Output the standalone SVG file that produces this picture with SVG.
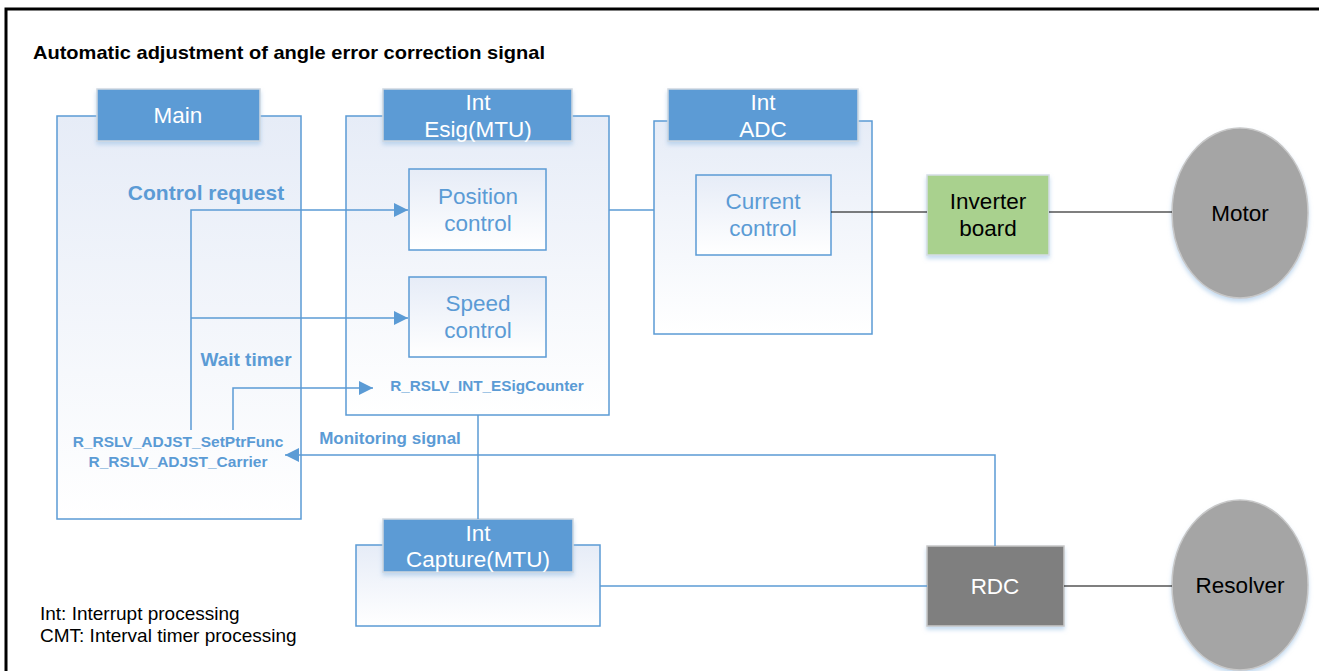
<svg xmlns="http://www.w3.org/2000/svg" width="1319" height="671" viewBox="0 0 1319 671">
<defs>
<linearGradient id="cg" x1="0" y1="0" x2="0" y2="1">
<stop offset="0" stop-color="#e6ecf7"/>
<stop offset="1" stop-color="#ffffff"/>
</linearGradient>
<filter id="sh" x="-20%" y="-20%" width="140%" height="140%">
<feDropShadow dx="0" dy="3" stdDeviation="2" flood-color="#9dc3e6" flood-opacity="0.6"/>
</filter>
<marker id="ar" viewBox="0 0 10 10" refX="10" refY="5" markerWidth="18" markerHeight="14" markerUnits="userSpaceOnUse" orient="auto">
<path d="M0,0 L10,5 L0,10 z" fill="#5b9bd5"/>
</marker>
</defs>
<style>
.cont{fill:url(#cg);stroke:#5b9bd5;stroke-width:1.5}
.hdr{fill:#5b9bd5;stroke:#d0d8e0;stroke-width:1.5;filter:url(#sh)}
.inner{fill:url(#cg);stroke:#5b9bd5;stroke-width:1.5}
.ht{font-family:"Liberation Sans",Arial,sans-serif;font-size:22.5px;fill:#ffffff;text-anchor:middle}
.it{font-family:"Liberation Sans",Arial,sans-serif;font-size:22.5px;fill:#5b9bd5;text-anchor:middle}
.bt{font-family:"Liberation Sans",Arial,sans-serif;font-size:22.5px;fill:#000000;text-anchor:middle}
.lb{font-family:"Liberation Sans",Arial,sans-serif;font-weight:bold;fill:#5b9bd5}
.bl{stroke:#5b9bd5;stroke-width:1.5;fill:none}
.bk{stroke:#000000;stroke-width:1.2;fill:none}
.leg{font-family:"Liberation Sans",Arial,sans-serif;font-size:19px;fill:#000000}
</style>
<rect x="0" y="0" width="1319" height="671" fill="#ffffff"/>
<path d="M6,671 L6,9 L1319,9" fill="none" stroke="#000000" stroke-width="3"/>
<text x="33" y="59" font-family="'Liberation Sans',Arial,sans-serif" font-weight="bold" font-size="18.5" fill="#000000" textLength="512" lengthAdjust="spacingAndGlyphs">Automatic adjustment of angle error correction signal</text>

<g id="main">
<rect class="cont" x="57" y="116" width="244" height="403"/>
<rect class="hdr" x="97" y="89" width="163" height="52"/>
<text class="ht" x="178" y="123">Main</text>
<text class="lb" x="206" y="200" font-size="21" text-anchor="middle">Control request</text>
<text class="lb" x="246" y="366" font-size="19" text-anchor="middle">Wait timer</text>
<text class="lb" x="178" y="447" font-size="15.5" text-anchor="middle">R_RSLV_ADJST_SetPtrFunc</text>
<text class="lb" x="178" y="467" font-size="15.5" text-anchor="middle">R_RSLV_ADJST_Carrier</text>
</g>

<g id="esig">
<rect class="cont" x="346" y="116" width="263" height="299"/>
<rect class="hdr" x="383" y="89" width="189" height="52"/>
<text class="ht" x="478" y="110">Int</text>
<text class="ht" x="478" y="137">Esig(MTU)</text>
<text class="lb" x="487" y="391" font-size="15.3" text-anchor="middle">R_RSLV_INT_ESigCounter</text>
</g>
<g id="position">
<rect class="inner" x="409" y="169" width="137" height="81"/>
<text class="it" x="478" y="204">Position</text>
<text class="it" x="478" y="231">control</text>
</g>
<g id="speed">
<rect class="inner" x="409" y="277" width="137" height="80"/>
<text class="it" x="478" y="311">Speed</text>
<text class="it" x="478" y="338">control</text>
</g>

<g id="adc">
<rect class="cont" x="654" y="121" width="218" height="213"/>
<rect class="hdr" x="668" y="89" width="190" height="52"/>
<text class="ht" x="763" y="110">Int</text>
<text class="ht" x="763" y="137">ADC</text>
</g>
<g id="current">
<rect class="inner" x="696" y="175" width="135" height="80"/>
<text class="it" x="763" y="209">Current</text>
<text class="it" x="763" y="236">control</text>
</g>

<g id="inverter">
<rect x="927" y="175" width="122" height="80" fill="#a9d18e" stroke="#d5dde5" stroke-width="1.5" filter="url(#sh)"/>
<text class="bt" x="988" y="209">Inverter</text>
<text class="bt" x="988" y="236">board</text>
</g>

<g id="motor">
<ellipse cx="1240" cy="213" rx="68" ry="85" fill="#a5a5a5" stroke="#c8c8c8" stroke-width="1.5" filter="url(#sh)"/>
<text class="bt" x="1240" y="221">Motor</text>
</g>

<g id="capture">
<rect class="cont" x="356" y="545" width="244" height="81"/>
<rect class="hdr" x="383" y="519" width="190" height="53"/>
<text class="ht" x="478" y="541">Int</text>
<text class="ht" x="478" y="567">Capture(MTU)</text>
</g>

<g id="rdc">
<rect x="927" y="546" width="137" height="80" fill="#7f7f7f" stroke="#c8c8c8" stroke-width="1.5" filter="url(#sh)"/>
<text class="ht" x="995" y="594">RDC</text>
</g>

<g id="resolver">
<ellipse cx="1240" cy="585" rx="68" ry="85" fill="#a5a5a5" stroke="#c8c8c8" stroke-width="1.5" filter="url(#sh)"/>
<text class="bt" x="1240" y="593">Resolver</text>
</g>

<g id="connectors">
<path class="bl" d="M609,210 L654,210"/>
<path class="bk" d="M831,212 L927,212"/>
<path class="bk" d="M1049,212 L1172,212"/>
<path class="bl" d="M191,430 L191,210 L408,210" marker-end="url(#ar)"/>
<path class="bl" d="M191,318 L408,318" marker-end="url(#ar)"/>
<path class="bl" d="M233,430 L233,388 L373,388" marker-end="url(#ar)"/>
<path class="bl" d="M478,415 L478,519"/>
<path class="bl" d="M995,546 L995,455 L285,455" marker-end="url(#ar)"/>
<path class="bl" d="M600,586 L927,586"/>
<path class="bk" d="M1064,586 L1172,586"/>
<text class="lb" x="390" y="444" font-size="17" text-anchor="middle">Monitoring signal</text>
</g>

<text class="leg" x="40" y="620">Int: Interrupt processing</text>
<text class="leg" x="40" y="642">CMT: Interval timer processing</text>
</svg>
